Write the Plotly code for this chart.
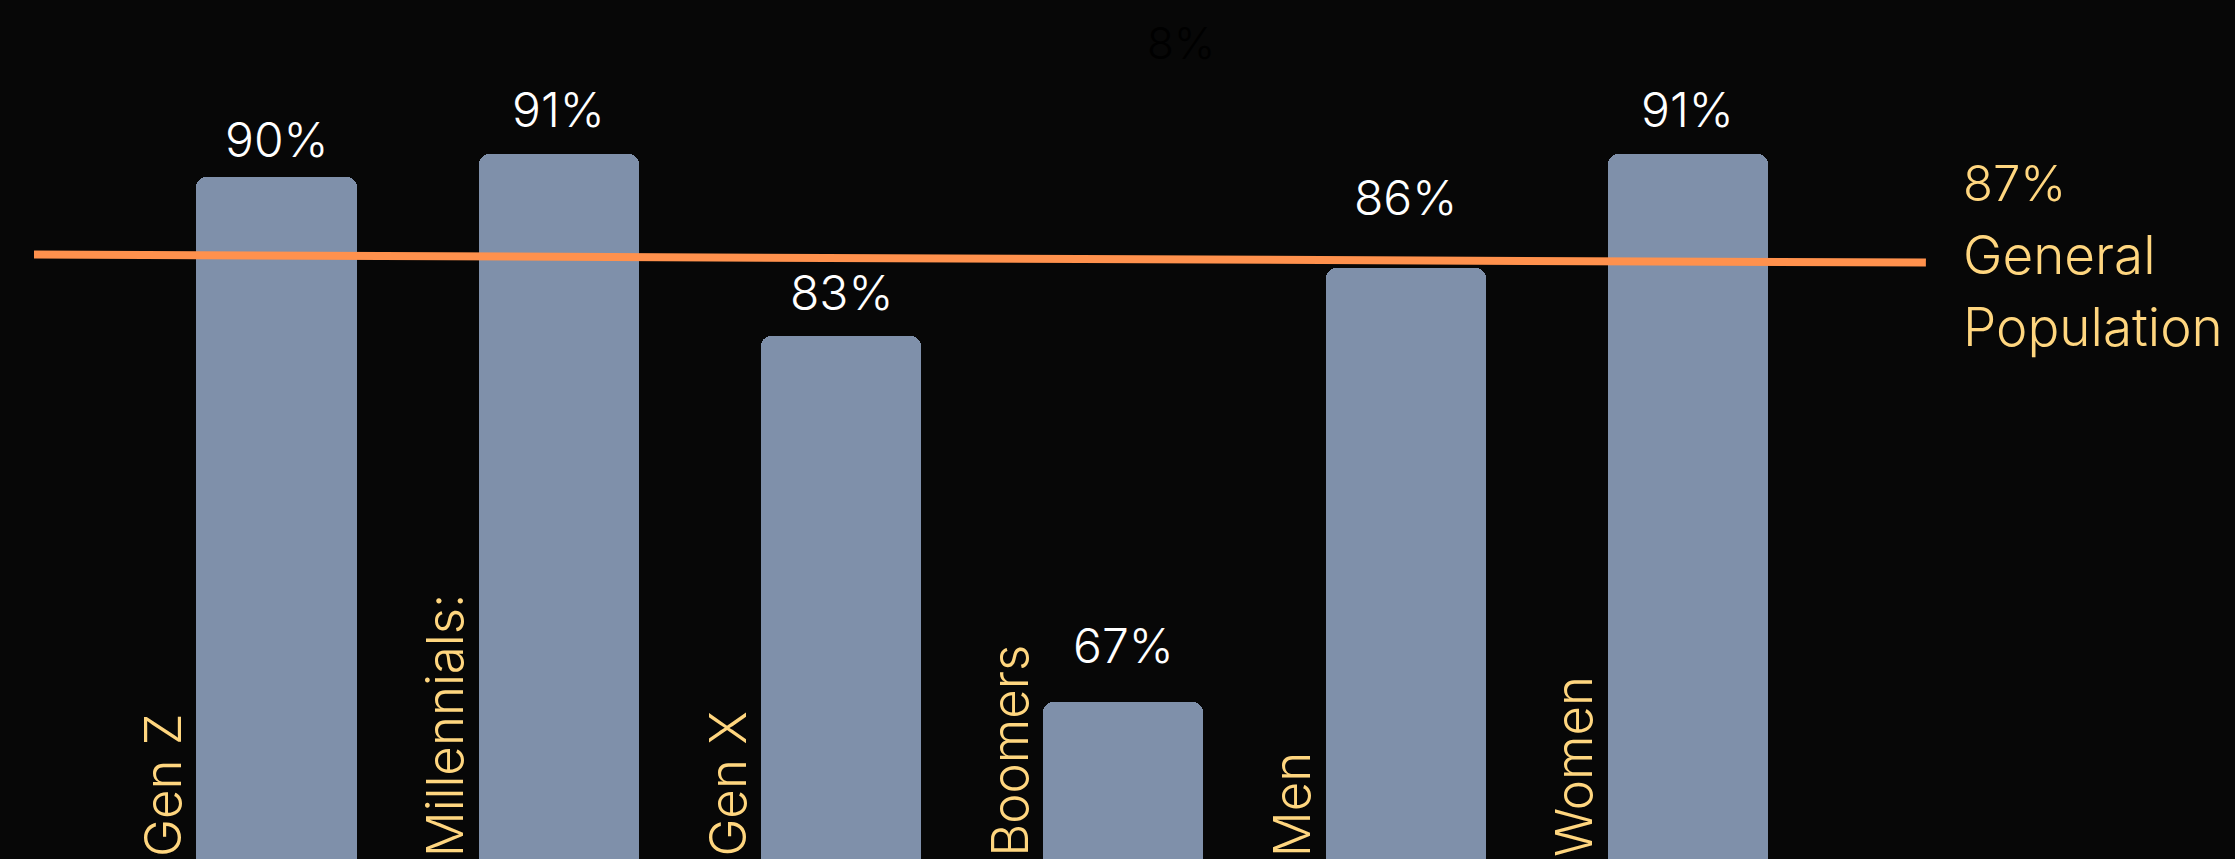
import plotly.graph_objects as go

# ---- data ----
categories = ["Gen Z", "Millennials:", "Gen X", "Boomers", "Men", "Women"]
values = [90, 91, 83, 67, 86, 91]
gen_pop_value = 87
gen_pop_label = ["General", "Population"]
# general population reference line (drawn slightly tilted in the original)
gen_pop_x = [-0.859, 5.843]
gen_pop_y = [86.58, 86.23]

# ---- style ----
BG = "#070707"
BAR = "#7F90AA"
ORANGE = "#FF914D"
YELLOW = "#FFD67F"
WHITE = "#FFFFFF"
FONT = "Inter"
label_gap = [37, 44, 44, 56, 70, 44]  # px between bar top and value label centre

W, H = 2235, 859
x_pos = list(range(len(categories)))

fig = go.Figure()
fig.add_trace(go.Bar(
    x=x_pos, y=values, width=0.567,
    marker=dict(color=BAR, line=dict(width=0), cornerradius=10),
    hoverinfo="skip", showlegend=False,
))
fig.add_trace(go.Scatter(
    x=gen_pop_x, y=gen_pop_y, mode="lines",
    line=dict(color=ORANGE, width=8), hoverinfo="skip", showlegend=False,
))

ann = []
for i, (c, v) in enumerate(zip(categories, values)):
    ann.append(dict(x=i, y=v, xref="x", yref="y", text=f"{v}%", showarrow=False,
                    xanchor="center", yanchor="middle", yshift=label_gap[i],
                    font=dict(family=FONT, size=48, color=WHITE, weight=300)))
    ann.append(dict(x=i, y=0, xref="x", yref="paper", text=c, showarrow=False,
                    textangle=-90, xanchor="right", yanchor="bottom", xshift=-82,
                    font=dict(family=FONT, size=51, color=YELLOW, weight=300)))

side_lines = [f"{gen_pop_value}%"] + gen_pop_label
side_y = [183.5, 254.5, 326.5]
side_size = [49, 53, 53]
for t, py, s in zip(side_lines, side_y, side_size):
    ann.append(dict(x=1961 / W, y=1 - py / H, xref="paper", yref="paper", text=t,
                    showarrow=False, xanchor="left", yanchor="middle",
                    font=dict(family=FONT, size=s, color=YELLOW, weight=300)))

# faint ghost label visible in the original background
ann.append(dict(x=1181 / W, y=1 - 42.5 / H, xref="paper", yref="paper", text="8%",
                showarrow=False, xanchor="center", yanchor="middle",
                font=dict(family=FONT, size=44, color="#000000", weight=300)))

fig.update_layout(
    width=W, height=H, margin=dict(l=0, r=0, t=0, b=0),
    paper_bgcolor=BG, plot_bgcolor=BG,
    xaxis=dict(range=[-0.9795, 6.938], visible=False, fixedrange=True),
    yaxis=dict(range=[60.11, 97.73], visible=False, fixedrange=True),
    annotations=ann, bargap=0,
)
fig.write_html("out.html")
